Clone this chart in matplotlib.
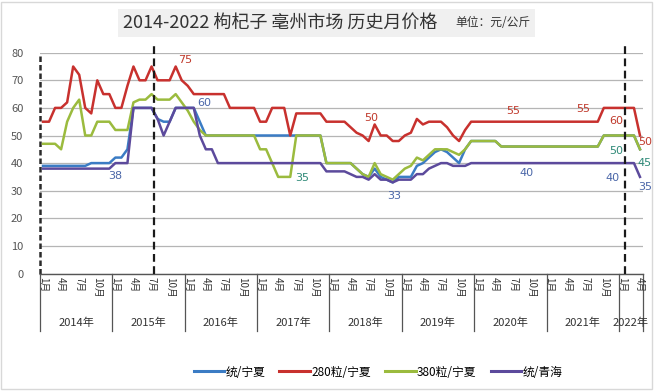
import matplotlib
matplotlib.use("Agg")
import matplotlib.pyplot as plt
import matplotlib.transforms as mtransforms
from matplotlib.lines import Line2D
from matplotlib.patches import Rectangle
import numpy as np

plt.rcParams['font.family'] = ['Noto Sans CJK SC', 'DejaVu Sans']

years = ['2014年', '2015年', '2016年', '2017年', '2018年', '2019年', '2020年', '2021年', '2022年']
months_per_year = [12, 12, 12, 12, 12, 12, 12, 12, 4]
month_labels = ['1月', '4月', '7月', '10月']

series_names = ['统/宁夏', '280粒/宁夏', '380粒/宁夏', '统/青海']

tong_ningxia = [
    39, 39, 39, 39, 39, 39, 39, 39, 40, 40, 40, 40,
    42, 42, 45, 60, 60, 60, 60, 56, 55, 55, 60, 60,
    60, 60, 55, 50, 50, 50, 50, 50, 50, 50, 50, 50,
    50, 50, 50, 50, 50, 50, 50, 50, 50, 50, 50, 40,
    40, 40, 40, 40, 38, 36, 35, 38, 35, 34, 33, 35,
    35, 35, 39, 40, 42, 44, 45, 44, 42, 40, 45, 48,
    48, 48, 48, 48, 46, 46, 46, 46, 46, 46, 46, 46,
    46, 46, 46, 46, 46, 46, 46, 46, 46, 50, 50, 50,
    50, 50, 50, 45]

li280_ningxia = [
    55, 55, 60, 60, 62, 75, 72, 60, 58, 70, 65, 65,
    60, 60, 68, 75, 70, 70, 75, 70, 70, 70, 75, 70,
    68, 65, 65, 65, 65, 65, 65, 60, 60, 60, 60, 60,
    55, 55, 60, 60, 60, 50, 58, 58, 58, 58, 58, 55,
    55, 55, 55, 53, 51, 50, 48, 54, 50, 50, 48, 48,
    50, 51, 56, 54, 55, 55, 55, 53, 50, 48, 52, 55,
    55, 55, 55, 55, 55, 55, 55, 55, 55, 55, 55, 55,
    55, 55, 55, 55, 55, 55, 55, 55, 55, 60, 60, 60,
    60, 60, 60, 50]

li380_ningxia = [
    47, 47, 47, 45, 55, 60, 63, 50, 50, 55, 55, 55,
    52, 52, 52, 62, 63, 63, 65, 63, 63, 63, 65, 62,
    59, 55, 52, 50, 50, 50, 50, 50, 50, 50, 50, 50,
    45, 45, 40, 35, 35, 35, 50, 50, 50, 50, 50, 40,
    40, 40, 40, 40, 38, 36, 35, 40, 36, 35, 34, 36,
    38, 39, 42, 41, 43, 45, 45, 45, 44, 43, 45, 48,
    48, 48, 48, 48, 46, 46, 46, 46, 46, 46, 46, 46,
    46, 46, 46, 46, 46, 46, 46, 46, 46, 50, 50, 50,
    50, 50, 50, 45]

tong_qinghai = [
    38, 38, 38, 38, 38, 38, 38, 38, 38, 38, 38, 38,
    40, 40, 40, 60, 60, 60, 60, 56, 50, 55, 60, 60,
    60, 60, 50, 45, 45, 40, 40, 40, 40, 40, 40, 40,
    40, 40, 40, 40, 40, 40, 40, 40, 40, 40, 40, 37,
    37, 37, 37, 36, 35, 35, 34, 36, 34, 34, 33, 34,
    34, 34, 36, 36, 38, 39, 40, 40, 39, 39, 39, 40,
    40, 40, 40, 40, 40, 40, 40, 40, 40, 40, 40, 40,
    40, 40, 40, 40, 40, 40, 40, 40, 40, 40, 40, 40,
    40, 40, 40, 35]

# annotations: (text, x index, value position, color key)
annotations = [
    ('75', 23.5, 77.5, 'red'), ('60', 26.7, 61.8, 'blue'), ('38', 12.0, 35.3, 'blue'),
    ('35', 43.0, 34.6, 'teal'), ('50', 54.4, 56.3, 'red'), ('33', 58.2, 28.0, 'blue'),
    ('55', 78.0, 58.9, 'red'), ('55', 89.5, 59.6, 'red'), ('40', 80.1, 36.4, 'blue'),
    ('60', 95.0, 55.2, 'red'), ('50', 95.0, 44.4, 'teal'), ('40', 94.4, 34.6, 'blue'),
    ('50', 99.8, 47.6, 'red'), ('45', 99.8, 40.0, 'teal'), ('35', 99.8, 31.3, 'blue'),
]
divider_positions = [18.4, 96.5]

colors = {'blue': '#3b7cc4', 'red': '#c8312e', 'green': '#9bbb3e', 'purple': '#5c4a9c'}
label_colors = {'red': '#c0392b', 'blue': '#4a66a8', 'teal': '#2f8a78'}

fig = plt.figure(figsize=(6.56, 3.91), dpi=100)
fig.patch.set_facecolor('white')
fig.add_artist(Rectangle((0.002, 0.004), 0.992, 0.99, transform=fig.transFigure,
                         fill=False, edgecolor='#d8d8d8', linewidth=1))

ax = fig.add_axes([40/656, 1-273.5/391, 603/656, 220.8/391])
n = len(li280_ningxia)
x = np.arange(n)

ax.plot(x, tong_ningxia, color=colors['blue'], lw=1.8, zorder=3)
ax.plot(x, li280_ningxia, color=colors['red'], lw=1.8, zorder=4)
ax.plot(x, li380_ningxia, color=colors['green'], lw=1.8, zorder=5)
ax.plot(x, tong_qinghai, color=colors['purple'], lw=1.8, zorder=6)

ax.set_xlim(-0.5, n - 0.5)
ax.set_ylim(0, 80)
ax.set_yticks(range(0, 81, 10))
ax.tick_params(axis='y', labelsize=8, labelcolor='#555555', length=0, pad=12)
ax.grid(axis='y', color='#b5b5b5', lw=0.9)
ax.set_axisbelow(True)
ax.set_xticks([])
for s in ['top', 'right', 'left']:
    ax.spines[s].set_visible(False)
ax.spines['bottom'].set_color('#555555')
ax.spines['bottom'].set_linewidth(1.0)
# dashed-looking value axis
ax.plot([-0.5, -0.5], [0, 80], color='#2a2a2a', lw=1.8, dashes=(2.2, 1.2),
        clip_on=False, zorder=2)

# dashed dividers
for d in divider_positions:
    ax.plot([d, d], [0, 84], color='#1a1a1a', lw=1.6, dashes=(3.5, 2.0),
            clip_on=False, zorder=7)

# annotations
for t, xi, yv, c in annotations:
    ax.text(xi, yv, t, color=label_colors[c], fontsize=8, ha='center', va='center',
            family=['DejaVu Sans'], zorder=8, clip_on=False)

# multi-level category axis
trans = mtransforms.blended_transform_factory(ax.transData, ax.transAxes)
start = 0
bounds = [-0.5]
for yname, m in zip(years, months_per_year):
    for k in range(0, m, 3):
        ax.text(start + k, -0.015, month_labels[k // 3], transform=trans, rotation=-90,
                ha='center', va='top', fontsize=7, color='#333333')
    ax.text(start + (m - 1) / 2, -0.225, yname, transform=trans, ha='center',
            va='center', fontsize=8, color='#333333')
    start += m
    bounds.append(start - 0.5)
for b in bounds:
    ax.plot([b, b], [0, -0.26], transform=trans, color='#555555', lw=0.9, clip_on=False)

# title
fig.add_artist(Rectangle((118/656, 1-37/391), 417/656, 28/391, transform=fig.transFigure,
                         facecolor='#f0f0f0', edgecolor='none'))
fig.text(123/656, 1-23/391, '2014-2022 枸杞子 亳州市场 历史月价格', fontsize=13,
         ha='left', va='center', color='#333333')
fig.text(531/656, 1-23/391, '单位：元/公斤', fontsize=8.5, ha='right', va='center',
         color='#333333')

# legend
handles = [Line2D([0], [0], color=colors[k], lw=2.2) for k in ['blue', 'red', 'green', 'purple']]
fig.legend(handles, series_names, loc='center', bbox_to_anchor=(378/656, 1-372/391),
           ncol=4, frameon=False, fontsize=8.5, handlelength=2.6, handletextpad=0.1,
           columnspacing=1.2)

fig.savefig('out.png', dpi=100, facecolor='white')
